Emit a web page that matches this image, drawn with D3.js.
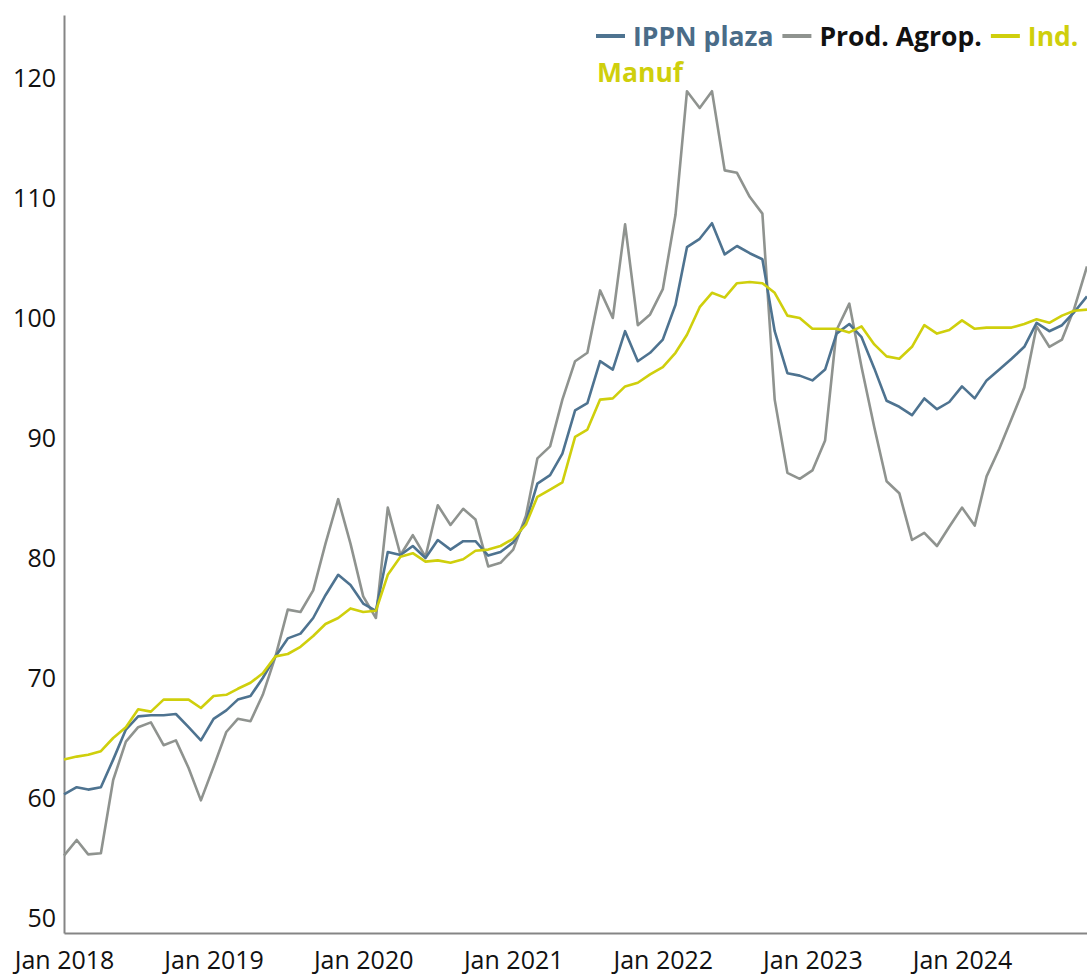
<!DOCTYPE html>
<html>
<head>
<meta charset="utf-8">
<script src="https://cdn.jsdelivr.net/npm/d3@7"></script>
<style>
  html, body { margin: 0; padding: 0; background: #fff; }
  svg { display: block; font-family: "Open Sans", "Noto Sans", sans-serif; }
</style>
</head>
<body>
<svg id="chart" width="1087" height="976"></svg>
<script>
const months = [
  "2018-01","2018-02","2018-03","2018-04","2018-05","2018-06","2018-07","2018-08","2018-09","2018-10","2018-11","2018-12",
  "2019-01","2019-02","2019-03","2019-04","2019-05","2019-06","2019-07","2019-08","2019-09","2019-10","2019-11","2019-12",
  "2020-01","2020-02","2020-03","2020-04","2020-05","2020-06","2020-07","2020-08","2020-09","2020-10","2020-11","2020-12",
  "2021-01","2021-02","2021-03","2021-04","2021-05","2021-06","2021-07","2021-08","2021-09","2021-10","2021-11","2021-12",
  "2022-01","2022-02","2022-03","2022-04","2022-05","2022-06","2022-07","2022-08","2022-09","2022-10","2022-11","2022-12",
  "2023-01","2023-02","2023-03","2023-04","2023-05","2023-06","2023-07","2023-08","2023-09","2023-10","2023-11","2023-12",
  "2024-01","2024-02","2024-03","2024-04","2024-05","2024-06","2024-07","2024-08","2024-09","2024-10","2024-11"
];

const ippnPlaza = [
  60.3,60.9,60.7,60.9,63.2,65.7,66.8,66.9,66.9,67.0,65.9,64.8,
  66.6,67.3,68.2,68.5,70.0,71.8,73.3,73.7,75.0,76.9,78.6,77.75,
  76.2,75.6,80.5,80.25,81.0,80.0,81.5,80.7,81.4,81.4,80.2,80.5,
  81.3,83.0,86.2,86.9,88.7,92.3,92.9,96.4,95.7,98.9,96.4,97.1,
  98.2,101.1,105.9,106.6,107.9,105.3,106.0,105.4,104.9,98.9,95.4,95.2,
  94.8,95.7,98.7,99.5,98.4,95.8,93.1,92.6,91.9,93.3,92.4,93.0,
  94.3,93.3,94.8,95.7,96.6,97.6,99.6,98.9,99.4,100.5,101.8
];

const prodAgrop = [
  55.2,56.5,55.3,55.4,61.5,64.7,65.9,66.3,64.4,64.8,62.5,59.8,
  62.6,65.5,66.6,66.4,68.6,71.8,75.7,75.5,77.3,81.2,84.9,81.2,
  76.8,75.0,84.2,80.25,81.9,80.1,84.4,82.75,84.1,83.2,79.3,79.6,
  80.7,83.5,88.3,89.3,93.2,96.4,97.1,102.3,100.0,107.8,99.4,100.3,
  102.4,108.6,118.9,117.5,118.9,112.3,112.1,110.1,108.7,93.2,87.1,86.6,
  87.3,89.8,99.0,101.2,95.9,90.9,86.4,85.4,81.5,82.1,81.0,82.6,
  84.2,82.7,86.8,89.1,91.6,94.2,99.3,97.6,98.2,100.8,104.3
];

const indManuf = [
  63.2,63.45,63.6,63.9,65.0,65.9,67.4,67.2,68.2,68.2,68.2,67.5,
  68.5,68.6,69.1,69.6,70.4,71.8,72.0,72.6,73.5,74.5,75.0,75.8,
  75.5,75.6,78.6,80.1,80.4,79.7,79.8,79.6,79.9,80.6,80.7,81.0,
  81.6,82.8,85.1,85.7,86.3,90.1,90.7,93.2,93.3,94.3,94.6,95.3,
  95.9,97.1,98.6,100.9,102.1,101.7,102.9,103.0,102.9,102.1,100.2,100.0,
  99.1,99.1,99.1,98.8,99.3,97.8,96.8,96.6,97.6,99.4,98.7,99.0,
  99.8,99.1,99.2,99.2,99.2,99.5,99.9,99.6,100.2,100.6,100.7
];

const seriesNames = ["IPPN plaza", "Prod. Agrop.", "Ind. Manuf"];
const seriesColors = ["#4e7390", "#8f938f", "#cfcf0c"];
const legendTextColors = ["#4a6c88", "#111111", "#cfcf0c"];
const yTicks = [50, 60, 70, 80, 90, 100, 110, 120];
const xTickLabels = ["Jan 2018","Jan 2019","Jan 2020","Jan 2021","Jan 2022","Jan 2023","Jan 2024"];

const W = 1087, H = 976;
const margin = {left: 64, right: 0, top: 15, bottom: 43};
const parseMonth = d3.timeParse("%Y-%m");
const dates = months.map(parseMonth);
const parseTick = d3.timeParse("%b %Y");

const svg = d3.select("#chart");

const x = d3.scaleTime()
  .domain([dates[0], dates[dates.length - 1]])
  .range([margin.left, W - margin.right]);
const y = d3.scaleLinear()
  .domain([48.75, 125.25])
  .range([H - margin.bottom, margin.top]);

// axes
const yAxis = d3.axisLeft(y).tickValues(yTicks).tickSize(0).tickPadding(8);
const gy = svg.append("g").attr("transform", `translate(${margin.left},0)`).call(yAxis);
gy.select(".domain").attr("stroke", "#858585").attr("stroke-width", 2);
gy.selectAll("text").attr("font-size", 25).attr("fill", "#111").attr("font-family", "'Open Sans', 'Noto Sans', sans-serif");

const xAxis = d3.axisBottom(x)
  .tickValues(xTickLabels.map(parseTick))
  .tickFormat(d3.timeFormat("%b %Y"))
  .tickSize(0).tickPadding(18);
const gx = svg.append("g").attr("transform", `translate(0,${H - margin.bottom})`).call(xAxis);
gx.select(".domain").attr("stroke", "#858585").attr("stroke-width", 2);
gx.selectAll("text").attr("font-size", 25).attr("fill", "#111").attr("font-family", "'Open Sans', 'Noto Sans', sans-serif");

// lines
const allSeries = [ippnPlaza, prodAgrop, indManuf];
const line = d3.line().x((d, i) => x(dates[i])).y(d => y(d));
const drawOrder = [1, 0, 2];
drawOrder.forEach(k => {
  svg.append("path")
    .datum(allSeries[k])
    .attr("fill", "none")
    .attr("stroke", seriesColors[k])
    .attr("stroke-width", 2.6)
    .attr("stroke-linejoin", "round")
    .attr("d", line);
});

// legend with wrapping
const lg = svg.append("g").attr("font-family", "'Open Sans', 'Noto Sans', sans-serif")
  .attr("font-weight", "bold").attr("font-size", 26.5);
const startX = 596, rowH = 36, limit = W - 4;
let cx = startX, cy = 46;
seriesNames.forEach((name, k) => {
  lg.append("line")
    .attr("x1", cx).attr("x2", cx + 29)
    .attr("y1", cy - 10).attr("y2", cy - 10)
    .attr("stroke", seriesColors[k]).attr("stroke-width", 4);
  cx += 37;
  const words = name.split(" ");
  let first = true;
  words.forEach(w => {
    const t = lg.append("text").attr("x", cx).attr("y", cy).attr("fill", legendTextColors[k]).text(w);
    const wd = t.node().getComputedTextLength();
    if (!first && cx + wd > limit) {
      cx = startX + 1; cy += rowH;
      t.attr("x", cx).attr("y", cy);
    }
    cx += wd + 7;
    first = false;
  });
  cx += 2;
});
</script>
</body>
</html>
